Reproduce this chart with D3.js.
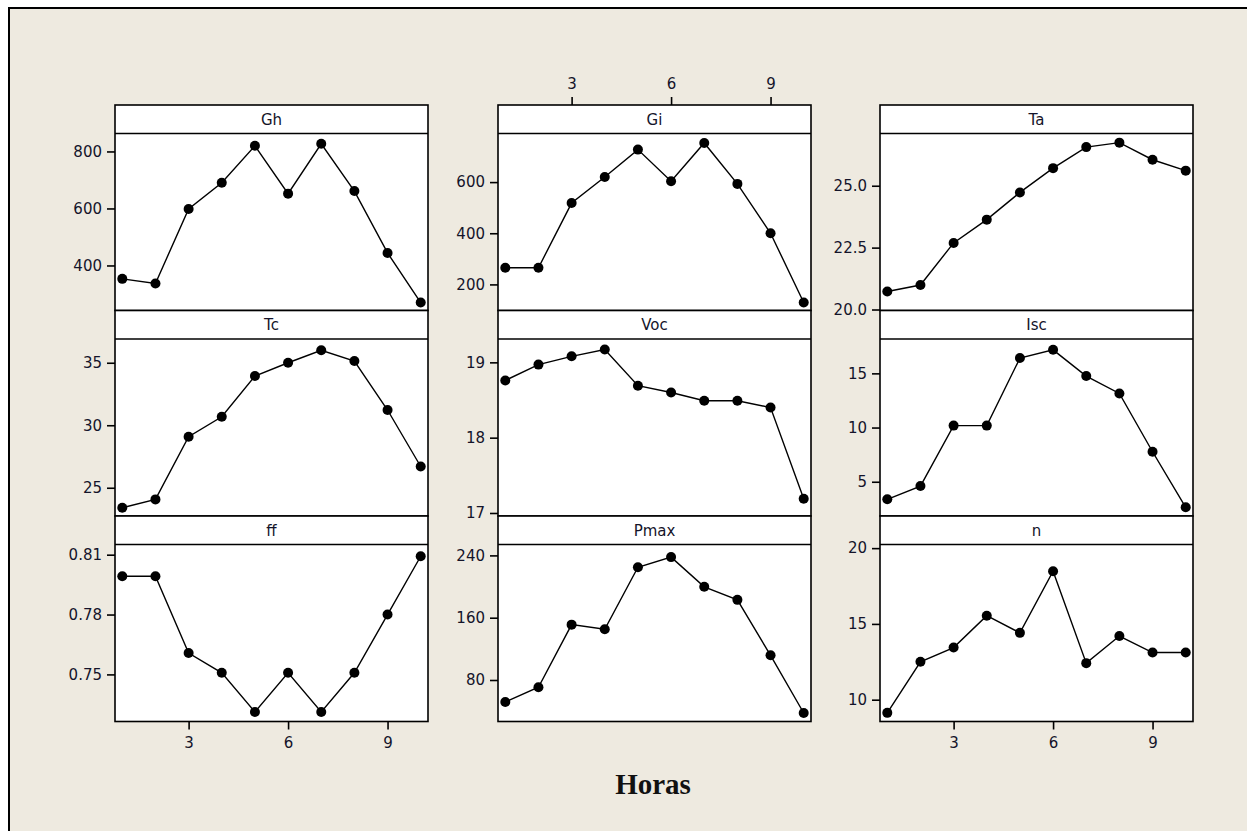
<!DOCTYPE html>
<html>
<head>
<meta charset="utf-8">
<script src="https://cdn.jsdelivr.net/npm/d3@7"></script>
<style>
    body { margin: 0; background: #ffffff; overflow: hidden; }
    svg { display: block; }
</style>
</head>
<body>
<div id="dataChart"></div>
<script>
// Hours on the x axis
const hours = [1, 2, 3, 4, 5, 6, 7, 8, 9, 10]
const hourTicks = [3, 6, 9]

// Panel names, in reading order
const panelNames = ['Gh', 'Gi', 'Ta', 'Tc', 'Voc', 'Isc', 'ff', 'Pmax', 'n']

// Series values (one per hour)
const valuesGh = [353, 337, 598, 690, 820, 652, 827, 661, 444, 270]
const valuesGi = [265, 265, 518, 620, 727, 603, 753, 593, 400, 129]
const valuesTa = [20.73, 20.99, 22.69, 23.63, 24.73, 25.71, 26.56, 26.74, 26.05, 25.61]
const valuesTc = [23.4, 24.07, 29.08, 30.68, 33.94, 35.0, 36.0, 35.14, 31.22, 26.7]
const valuesVoc = [18.76, 18.97, 19.08, 19.17, 18.69, 18.60, 18.49, 18.49, 18.40, 17.19]
const valuesIsc = [3.38, 4.6, 10.18, 10.18, 16.41, 17.17, 14.75, 13.15, 7.77, 2.64]
const valuesFf = [0.7992, 0.7992, 0.7607, 0.7508, 0.7312, 0.7508, 0.7312, 0.7508, 0.78, 0.8092]
const valuesPmax = [51.7, 70.7, 151.1, 145.2, 224.8, 237.8, 199.7, 182.9, 111.7, 37.6]
const valuesN = [9.13, 12.5, 13.44, 15.54, 14.41, 18.48, 12.41, 14.2, 13.11, 13.11]

// Axis ranges shown on each panel
const yDomainGh = [242, 863]
const yDomainGi = [98, 790]
const yDomainTa = [19.96, 27.11]
const yDomainTc = [22.74, 36.9]
const yDomainVoc = [16.96, 19.31]
const yDomainIsc = [1.84, 18.17]
const yDomainFf = [0.7264, 0.8151]
const yDomainPmax = [26.7, 254]
const yDomainN = [8.56, 20.24]
const xDomain = [0.78, 10.22]

// Tick labels of each y axis
const yTicksGh = ['400', '600', '800']
const yTicksGi = ['200', '400', '600']
const yTicksTa = ['20.0', '22.5', '25.0']
const yTicksTc = ['25', '30', '35']
const yTicksVoc = ['17', '18', '19']
const yTicksIsc = ['5', '10', '15']
const yTicksFf = ['0.75', '0.78', '0.81']
const yTicksPmax = ['80', '160', '240']
const yTicksN = ['10', '15', '20']

const panels = [
    { name: panelNames[0], values: valuesGh, domain: yDomainGh, ticks: yTicksGh },
    { name: panelNames[1], values: valuesGi, domain: yDomainGi, ticks: yTicksGi },
    { name: panelNames[2], values: valuesTa, domain: yDomainTa, ticks: yTicksTa },
    { name: panelNames[3], values: valuesTc, domain: yDomainTc, ticks: yTicksTc },
    { name: panelNames[4], values: valuesVoc, domain: yDomainVoc, ticks: yTicksVoc },
    { name: panelNames[5], values: valuesIsc, domain: yDomainIsc, ticks: yTicksIsc },
    { name: panelNames[6], values: valuesFf, domain: yDomainFf, ticks: yTicksFf },
    { name: panelNames[7], values: valuesPmax, domain: yDomainPmax, ticks: yTicksPmax },
    { name: panelNames[8], values: valuesN, domain: yDomainN, ticks: yTicksN },
]

document.addEventListener('DOMContentLoaded', () => {
    draw()
});

function draw() {
    const viewWidth = 1247
    const viewHeight = 831
    const background = '#eeeae0'
    const tickFont = '"DejaVu Sans", Verdana, sans-serif'
    const tickFontSize = '15px'
    const tickColour = '#14142a'

    // Panel grid
    const colLeft = [115, 498, 880]
    const panelWidth = 313
    const rowTop = [105, 310.5, 516]
    const headerHeight = 28.5
    const plotHeight = 177

    const svg = d3.select('#dataChart')
        .append('svg')
        .attr('width', viewWidth)
        .attr('height', viewHeight)

    // Outer frame (only left and top edges are visible)
    svg.append('rect')
        .attr('x', 9)
        .attr('y', 8)
        .attr('width', viewWidth + 20)
        .attr('height', viewHeight + 20)
        .attr('fill', background)
        .attr('stroke', '#000')
        .attr('stroke-width', 2)

    panels.forEach((panel, i) => {
        const col = i % 3
        const row = Math.floor(i / 3)
        const x0 = colLeft[col]
        const y0 = rowTop[row]
        const plotTop = y0 + headerHeight

        const g = svg.append('g')
            .attr('class', 'panel')
            .attr('data-name', panel.name)

        const x = d3.scaleLinear().domain(xDomain).range([x0, x0 + panelWidth])
        const y = d3.scaleLinear().domain(panel.domain).range([plotTop + plotHeight, plotTop])

        // Header strip + plot area
        g.append('rect')
            .attr('x', x0)
            .attr('y', y0)
            .attr('width', panelWidth)
            .attr('height', headerHeight + plotHeight)
            .attr('fill', '#fff')
        g.append('text')
            .attr('x', x0 + panelWidth / 2)
            .attr('y', y0 + headerHeight / 2 + 1)
            .attr('text-anchor', 'middle')
            .attr('dominant-baseline', 'middle')
            .attr('font-family', tickFont)
            .attr('font-size', tickFontSize)
            .attr('fill', tickColour)
            .text(panel.name)

        // y axis
        const yAxis = g.append('g')
            .attr('transform', `translate(${x0}, 0)`)
            .call(d3.axisLeft(y)
                .tickValues(panel.ticks.map(Number))
                .tickFormat((d, k) => panel.ticks[k])
                .tickSize(8)
                .tickPadding(5))
        yAxis.select('.domain').remove()
        styleAxis(yAxis)

        // x axis: bottom for outer columns of last row, top for middle column of first row
        if (row === 2 && col !== 1) {
            const xAxis = g.append('g')
                .attr('transform', `translate(0, ${plotTop + plotHeight})`)
                .call(d3.axisBottom(x).tickValues(hourTicks).tickSize(8).tickPadding(8))
            xAxis.select('.domain').remove()
            styleAxis(xAxis)
        }
        if (row === 0 && col === 1) {
            const xAxis = g.append('g')
                .attr('transform', `translate(0, ${y0})`)
                .call(d3.axisTop(x).tickValues(hourTicks).tickSize(8).tickPadding(8))
            xAxis.select('.domain').remove()
            styleAxis(xAxis)
        }

        // Series
        const points = hours.map((h, k) => [h, panel.values[k]])
        g.append('path')
            .datum(points)
            .attr('fill', 'none')
            .attr('stroke', '#000')
            .attr('stroke-width', 1.4)
            .attr('d', d3.line().x(d => x(d[0])).y(d => y(d[1])))
        g.selectAll('circle')
            .data(points)
            .enter()
            .append('circle')
            .attr('cx', d => x(d[0]))
            .attr('cy', d => y(d[1]))
            .attr('r', 5)
            .attr('fill', '#000')

        // Borders
        g.append('rect')
            .attr('x', x0)
            .attr('y', y0)
            .attr('width', panelWidth)
            .attr('height', headerHeight + plotHeight)
            .attr('fill', 'none')
            .attr('stroke', '#000')
            .attr('stroke-width', 1.6)
        g.append('line')
            .attr('x1', x0)
            .attr('x2', x0 + panelWidth)
            .attr('y1', plotTop)
            .attr('y2', plotTop)
            .attr('stroke', '#000')
            .attr('stroke-width', 1.6)
    })

    // x axis title
    svg.append('text')
        .attr('x', 653)
        .attr('y', 794)
        .attr('text-anchor', 'middle')
        .attr('font-family', '"Liberation Serif", "Times New Roman", serif')
        .attr('font-weight', 'bold')
        .attr('font-size', '29px')
        .attr('fill', '#111')
        .text('Horas')

    function styleAxis(axis) {
        axis.selectAll('line')
            .attr('stroke', '#000')
            .attr('stroke-width', 1.6)
        axis.selectAll('text')
            .attr('font-family', tickFont)
            .attr('font-size', tickFontSize)
            .attr('fill', tickColour)
    }
}
</script>
</body>
</html>
